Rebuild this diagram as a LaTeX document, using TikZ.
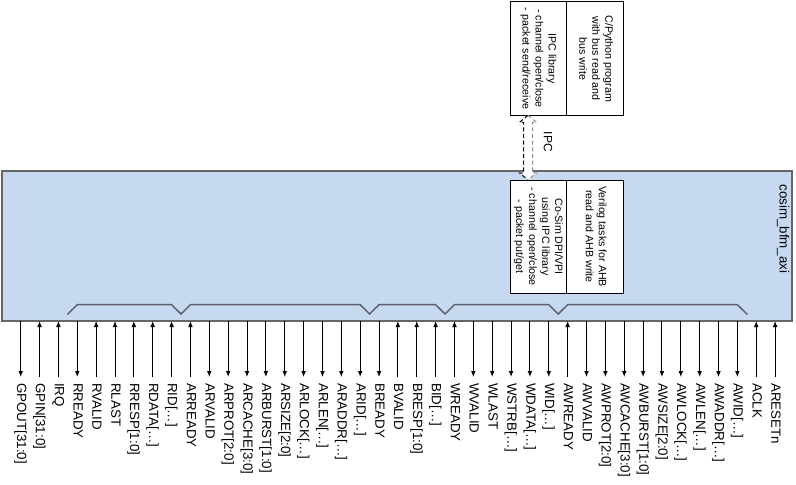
\documentclass[tikz,border=0pt]{standalone}
\usepackage{fontspec}
\setmainfont{Liberation Sans}
\usepackage{graphicx}
\usetikzlibrary{arrows.meta,positioning,calc}

\definecolor{bfmfill}{RGB}{198,217,240}
\definecolor{busgray}{RGB}{96,96,108}

\begin{document}
\begin{tikzpicture}[
  x=0.75pt, y=-0.75pt,
  bfmbox/.style={rectangle, draw=black!60, line width=1.1pt, fill=bfmfill, outer sep=0pt, minimum width=592.5pt, minimum height=112.5pt},
  halfbox/.style={rectangle, draw=black, fill=white, line width=0.75pt, outer sep=0pt, inner sep=0pt, minimum width=42.5pt, minimum height=85pt, font=\fontsize{8}{9.75}\selectfont},
  siglabel/.style={rotate=-90, anchor=west, inner sep=0pt, text height=0.75em, text depth=0.2em, font=\fontsize{10}{12}\selectfont},
  sigline/.style={-{Latex[length=4.5pt,width=3.6pt]}, line width=0.75pt},
  bus/.style={draw=busgray, line width=1.1pt},
  ipcline/.style={dash pattern=on 3pt off 2pt, line width=0.75pt}
]
\useasboundingbox (0,0) rectangle (796,485);

% the bfm block
\node[bfmbox, anchor=north west] (bfm) at (2,171) {};
\node[rotate=-90, font=\fontsize{10}{12}\selectfont] (bfmname) at (783,229) {cosim\_bfm\_axi};

% signal pins
\foreach \sig/\dir [count=\i] in {
  GPOUT[31:0]/1, GPIN[31:0]/0, IRQ/0, RREADY/1, RVALID/0, RLAST/0, RRESP[1:0]/0, RDATA[…]/0, RID[…]/0, ARREADY/0,
  ARVALID/1, ARPROT[2:0]/1, ARCACHE[3:0]/1, ARBURST[1:0]/1, ARSIZE[2:0]/1, ARLOCK[…]/1, ARLEN[…]/1, ARADDR[…]/1, ARID[…]/1, BREADY/1,
  BVALID/0, BRESP[1:0]/0, BID[…]/0, WREADY/0, WVALID/1, WLAST/1, WSTRB[…]/1, WDATA[…]/1, WID[…]/1, AWREADY/0,
  AWVALID/1, AWPROT[2:0]/1, AWCACHE[3:0]/1, AWBURST[1:0]/1, AWSIZE[2:0]/1, AWLOCK[…]/1, AWLEN[…]/1, AWADDR[…]/1, AWID[…]/1, ACLK/0,
  ARESETn/0}{
  \node[siglabel] (s\i) at (1.84+18.86*\i, 383) {\sig};
  \coordinate (p\i) at (s\i.west |- bfm.south);
  \ifnum\dir=1
    \draw[sigline] (p\i) -- ([yshift=4.5pt]s\i.west);
  \else
    \draw[sigline] ([yshift=4.5pt]s\i.west) -- (p\i);
  \fi
}

% channel groups
\draw[bus] ($(p4)+(-10,-6.5)$) -- ($(p4)+(0,-16.3)$) -- ($(p9)+(0,-16.3)$)
  -- ($(p9)!.5!(p10)+(0,-7)$) -- ($(p10)+(0,-16.3)$) -- ($(p19)+(0,-16.3)$)
  -- ($(p19)!.5!(p20)+(0,-7)$) -- ($(p20)+(0,-16.3)$) -- ($(p23)+(0,-16.3)$)
  -- ($(p23)!.5!(p24)+(0,-7)$) -- ($(p24)+(0,-16.3)$) -- ($(p29)+(0,-16.3)$)
  -- ($(p29)!.5!(p30)+(0,-7)$) -- ($(p30)+(0,-16.3)$) -- ($(p39)+(0,-16.3)$)
  -- ($(p39)+(10,-6.5)$);

% simulator side
\node[halfbox, anchor=north west] (dpi) at (510,180) {\rotatebox{-90}{\begin{tabular}{@{}c@{}}Co-Sim DPI/VPI\\using IPC library\\- channel open/close\\- packet put/get\end{tabular}}};
\node[halfbox, right=0pt of dpi] (ahbtask) {\rotatebox{-90}{\begin{tabular}{@{}c@{}}Verilog tasks for AHB\\read and AHB write\end{tabular}}};

% host side
\node[halfbox, anchor=north west] (ipclib) at (510,2) {\rotatebox{-90}{\begin{tabular}{@{}c@{}}IPC library\\- channel open/close\\- packet send/receive\end{tabular}}};
\node[halfbox, right=0pt of ipclib] (hostprog) {\rotatebox{-90}{\begin{tabular}{@{}c@{}}C/Python program\\with bus read and\\bus write\end{tabular}}};

% ipc link
\coordinate (ipctop) at ([xshift=-7.75pt]ipclib.south);
\coordinate (ipcbot) at ([xshift=-7.75pt]dpi.north);
\fill[white] (ipctop) -- ++(-8.5,7) -- ++(4,0) -- ($(ipcbot)+(-4.5,-7)$) -- ++(-4,0) -- (ipcbot)
  -- ++(8.5,-7) -- ++(-4,0) -- ($(ipctop)+(4.5,7)$) -- ++(4,0) -- cycle;
\draw[ipcline] (ipctop) -- ++(-8.5,7) -- ++(4,0) -- ($(ipcbot)+(-4.5,-7)$) -- ++(-4,0) -- (ipcbot);
\draw[ipcline, black!45] (ipctop) -- ++(8.5,7) -- ++(-4,0) -- ($(ipcbot)+(4.5,-7)$) -- ++(4,0) -- (ipcbot);
\node[rotate=-90, font=\fontsize{9}{11}\selectfont] (ipcname) at (548,142) {IPC};
\end{tikzpicture}
\end{document}
